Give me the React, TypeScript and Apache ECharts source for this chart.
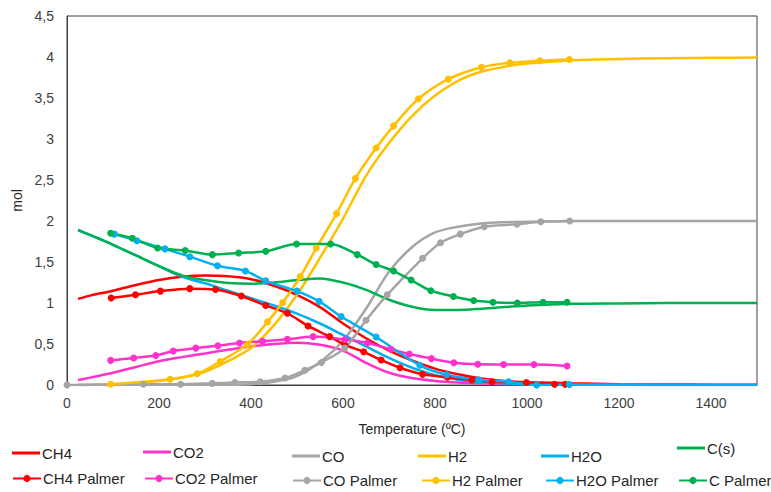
import React, { useEffect, useRef } from "react";
import * as echarts from "echarts";

// Equilibrium curves (temperature grid, ºC)
const eqT = [24, 50, 100, 150, 200, 250, 300, 350, 400, 450, 500, 550, 600, 650, 700, 750, 800, 850, 900, 950, 1000, 1100, 1200, 1300, 1400, 1500];
const ch4Eq = [1.05, 1.09, 1.15, 1.22, 1.28, 1.32, 1.335, 1.325, 1.29, 1.21, 1.1, 0.95, 0.75, 0.57, 0.42, 0.3, 0.2, 0.13, 0.08, 0.05, 0.035, 0.02, 0.01, 0.006, 0.004, 0.003];
const co2Eq = [0.06, 0.09, 0.15, 0.22, 0.29, 0.34, 0.385, 0.43, 0.47, 0.5, 0.515, 0.49, 0.42, 0.27, 0.15, 0.085, 0.05, 0.03, 0.02, 0.012, 0.008, 0.004, 0.002, 0.001, 0, 0];
const coEq = [0, 0, 0, 0, 0, 0, 0, 0, 0.01, 0.04, 0.11, 0.28, 0.54, 0.93, 1.38, 1.68, 1.86, 1.93, 1.97, 1.985, 1.99, 2.0, 2.0, 2.0, 2.0, 2.0];
const h2Eq = [0, 0.003, 0.01, 0.025, 0.05, 0.09, 0.16, 0.29, 0.45, 0.73, 1.1, 1.55, 2.03, 2.55, 2.95, 3.28, 3.53, 3.71, 3.82, 3.88, 3.92, 3.96, 3.975, 3.985, 3.99, 3.995];
const h2oEq = [1.89, 1.83, 1.71, 1.58, 1.45, 1.32, 1.24, 1.15, 1.06, 0.97, 0.87, 0.75, 0.61, 0.47, 0.33, 0.21, 0.12, 0.065, 0.035, 0.02, 0.01, 0.004, 0.002, 0.001, 0, 0];
const cEq = [1.89, 1.83, 1.71, 1.58, 1.45, 1.335, 1.28, 1.245, 1.235, 1.25, 1.28, 1.3, 1.25, 1.16, 1.04, 0.955, 0.915, 0.915, 0.93, 0.95, 0.97, 0.99, 0.995, 1.0, 1.0, 1.0];

// Palmer data
const ch4PT = [96, 149, 203, 267, 323, 379, 432, 479, 524, 571, 604, 645, 683, 724, 773, 827, 880, 924, 999, 1060, 1083];
const ch4PV = [1.06, 1.1, 1.145, 1.175, 1.165, 1.085, 0.97, 0.875, 0.72, 0.59, 0.49, 0.405, 0.305, 0.21, 0.13, 0.094, 0.06, 0.04, 0.03, 0.008, 0.008];
const co2PT = [95, 145, 193, 231, 280, 328, 375, 425, 479, 535, 604, 653, 704, 744, 792, 841, 893, 949, 1015, 1087];
const co2PV = [0.3, 0.33, 0.36, 0.415, 0.45, 0.478, 0.513, 0.533, 0.557, 0.59, 0.555, 0.513, 0.435, 0.378, 0.322, 0.272, 0.252, 0.25, 0.25, 0.232];
const coPT = [0, 166, 247, 316, 365, 420, 474, 517, 553, 604, 650, 696, 773, 812, 855, 907, 978, 1030, 1093];
const coPV = [0, 0.01, 0.01, 0.02, 0.03, 0.04, 0.085, 0.18, 0.275, 0.45, 0.79, 1.1, 1.545, 1.735, 1.84, 1.93, 1.96, 1.99, 2.0];
const h2PT = [95, 224, 283, 333, 392, 436, 469, 507, 542, 586, 627, 672, 710, 764, 829, 901, 963, 1028, 1092];
const h2PV = [0.01, 0.07, 0.137, 0.287, 0.495, 0.77, 1.005, 1.32, 1.67, 2.09, 2.52, 2.89, 3.16, 3.49, 3.73, 3.875, 3.93, 3.955, 3.97];
const h2oPT = [103, 152, 213, 267, 327, 388, 432, 500, 548, 596, 672, 767, 825, 895, 960, 1021, 1092];
const h2oPV = [1.84, 1.76, 1.66, 1.565, 1.455, 1.39, 1.27, 1.145, 1.02, 0.835, 0.585, 0.24, 0.125, 0.065, 0.04, 0.0, 0.005];
const cPT = [95, 142, 197, 257, 316, 373, 432, 499, 573, 631, 672, 710, 748, 791, 840, 884, 926, 979, 1035, 1087];
const cPV = [1.85, 1.79, 1.67, 1.64, 1.59, 1.61, 1.63, 1.72, 1.72, 1.59, 1.47, 1.39, 1.28, 1.15, 1.08, 1.03, 1.01, 1.0, 1.01, 1.01];

const xTicks = { min: 0, max: 1500, interval: 200 };
const yTicks = { min: 0, max: 4.5, interval: 0.5 };

const COLORS = {
  CH4: "#FF0000",
  CO2: "#FF33CC",
  CO: "#A5A5A5",
  H2: "#FFC000",
  H2O: "#00B0F0",
  C: "#00B050",
};

const FONT = "'Liberation Sans', Arial, sans-serif";

const pair = (t: number[], v: number[]) => t.map((x, i) => [x, v[i]]);

export default function App() {
  const ref = useRef<HTMLDivElement>(null);
  useEffect(() => {
    document.body.style.margin = "0";
    const chart = echarts.init(ref.current!, null, { renderer: "svg" });

    const eqSeries = (name: string, vals: number[], color: string) => ({
      name,
      type: "line",
      data: pair(eqT, vals),
      smooth: 0.3,
      symbol: "none",
      lineStyle: { color, width: 2.5 },
      itemStyle: { color },
      z: 2,
    });
    const pSeries = (name: string, t: number[], v: number[], color: string) => ({
      name,
      type: "line",
      data: pair(t, v),
      smooth: 0.3,
      symbol: "circle",
      symbolSize: 7,
      lineStyle: { color, width: 2.5 },
      itemStyle: { color },
      z: 3,
    });

    const legendItems: [string, number, number, boolean][] = [
      ["CH4", 12, 453, false],
      ["CO2", 143, 452, false],
      ["CO", 292, 456, false],
      ["H2", 418, 456, false],
      ["H2O", 541, 456, false],
      ["C(s)", 677, 448, false],
      ["CH4 Palmer", 12, 479, true],
      ["CO2 Palmer", 144, 479, true],
      ["CO Palmer", 292, 481, true],
      ["H2 Palmer", 421, 481, true],
      ["H2O Palmer", 545, 481, true],
      ["C Palmer", 678, 481, true],
    ];

    const option: any = {
      animation: false,
      backgroundColor: "#fff",
      textStyle: { fontFamily: FONT },
      grid: {
        left: 67,
        right: 14,
        top: 16,
        bottom: 107,
        show: true,
        borderColor: "#404040",
        borderWidth: 1,
        backgroundColor: "transparent",
      },
      legend: legendItems.map(([name, left, cy, palmer]) =>
        palmer
          ? {
              data: [name],
              left,
              top: cy - 8,
              padding: 0,
              itemWidth: 28,
              itemHeight: 9,
              itemGap: 0,
              selectedMode: false,
              textStyle: { fontSize: 15, color: "#262626", fontFamily: FONT, padding: [0, 0, 0, -3] },
            }
          : {
              data: [{ name, icon: "rect" }],
              left,
              top: cy - 8,
              padding: 0,
              itemWidth: 28,
              itemHeight: 3,
              itemGap: 0,
              selectedMode: false,
              textStyle: { fontSize: 15, color: "#262626", fontFamily: FONT, padding: [0, 0, 0, -3], lineHeight: 16 },
            }
      ),
      xAxis: {
        type: "value",
        min: xTicks.min,
        max: xTicks.max,
        interval: xTicks.interval,
        name: "Temperature (ºC)",
        nameLocation: "middle",
        nameGap: 37,
        nameTextStyle: { fontSize: 14, color: "#262626", fontFamily: FONT },
        axisLine: { show: true, lineStyle: { color: "#404040" } },
        axisTick: { show: false },
        splitLine: { show: false },
        axisLabel: {
          fontSize: 14,
          color: "#404040",
          margin: 11,
          showMaxLabel: false,
          fontFamily: FONT,
          formatter: (v: number) => String(v),
        },
      },
      yAxis: {
        type: "value",
        min: yTicks.min,
        max: yTicks.max,
        interval: yTicks.interval,
        name: "mol",
        nameLocation: "middle",
        nameGap: 42,
        nameTextStyle: { fontSize: 14, color: "#262626", fontFamily: FONT },
        axisLine: { show: true, lineStyle: { color: "#404040" } },
        axisTick: { show: false },
        splitLine: { show: false },
        axisLabel: {
          fontSize: 14,
          color: "#404040",
          margin: 13,
          fontFamily: FONT,
          formatter: (v: number) => String(v).replace(".", ","),
        },
      },
      series: [
        eqSeries("CH4", ch4Eq, COLORS.CH4),
        eqSeries("CO2", co2Eq, COLORS.CO2),
        eqSeries("CO", coEq, COLORS.CO),
        eqSeries("H2", h2Eq, COLORS.H2),
        eqSeries("H2O", h2oEq, COLORS.H2O),
        eqSeries("C(s)", cEq, COLORS.C),
        pSeries("CH4 Palmer", ch4PT, ch4PV, COLORS.CH4),
        pSeries("CO2 Palmer", co2PT, co2PV, COLORS.CO2),
        pSeries("CO Palmer", coPT, coPV, COLORS.CO),
        pSeries("H2 Palmer", h2PT, h2PV, COLORS.H2),
        pSeries("H2O Palmer", h2oPT, h2oPV, COLORS.H2O),
        pSeries("C Palmer", cPT, cPV, COLORS.C),
      ],
    };
    chart.setOption(option);
    return () => chart.dispose();
  }, []);
  return <div ref={ref} style={{ width: 771, height: 492 }} />;
}
